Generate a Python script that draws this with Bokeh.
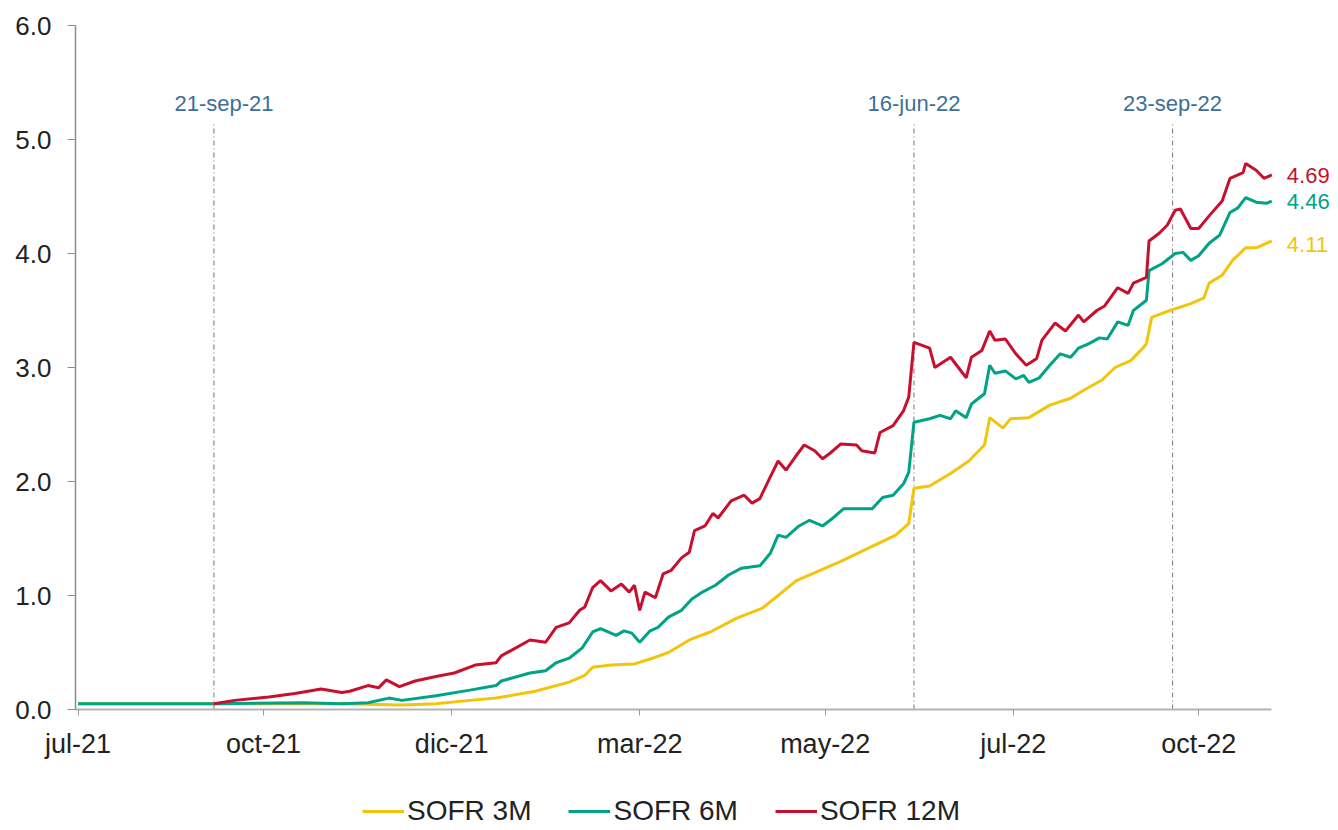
import pandas as pd
from bokeh.plotting import figure
from bokeh.layouts import column
from bokeh.models import (Range1d, FixedTicker, NumeralTickFormatter, Label,
                          Legend, LegendItem, ColumnDataSource)
from bokeh.core.properties import value
from bokeh.embed import file_html
from bokeh.resources import INLINE

# ---------------- data ----------------
sofr3m_dates = ["2021-07-31", "2021-09-21", "2021-11-09", "2021-12-02", "2021-12-15",
                "2021-12-28", "2022-01-07", "2022-01-22", "2022-02-04", "2022-02-10",
                "2022-02-13", "2022-02-20", "2022-03-01", "2022-03-08", "2022-03-14",
                "2022-03-22", "2022-03-30", "2022-04-09", "2022-04-19", "2022-04-25",
                "2022-05-02", "2022-05-08", "2022-05-15", "2022-05-19", "2022-05-30",
                "2022-06-09", "2022-06-14", "2022-06-16", "2022-06-22", "2022-06-30",
                "2022-07-07", "2022-07-13", "2022-07-15", "2022-07-20", "2022-07-23",
                "2022-07-30", "2022-08-07", "2022-08-15", "2022-08-20", "2022-08-27",
                "2022-09-01", "2022-09-07", "2022-09-12", "2022-09-13", "2022-09-15",
                "2022-09-22", "2022-09-30", "2022-10-05", "2022-10-07", "2022-10-12",
                "2022-10-16", "2022-10-21", "2022-10-25", "2022-10-31"]
sofr3m = [0.05, 0.05, 0.05, 0.04, 0.05,
          0.08, 0.10, 0.16, 0.24, 0.30,
          0.37, 0.39, 0.40, 0.45, 0.50,
          0.61, 0.68, 0.80, 0.89, 1.00,
          1.13, 1.19, 1.26, 1.30, 1.42,
          1.53, 1.63, 1.94, 1.96, 2.07,
          2.18, 2.32, 2.56, 2.47, 2.55,
          2.56, 2.67, 2.73, 2.80, 2.89,
          3.00, 3.06, 3.18, 3.21, 3.44,
          3.50, 3.56, 3.61, 3.74, 3.81,
          3.94, 4.05, 4.05, 4.11]

sofr6m_dates = ["2021-07-31", "2021-09-21", "2021-10-25", "2021-11-09", "2021-11-19",
                "2021-11-27", "2021-12-02", "2021-12-15", "2021-12-28", "2022-01-07",
                "2022-01-09", "2022-01-20", "2022-01-26", "2022-01-30", "2022-02-04",
                "2022-02-09", "2022-02-13", "2022-02-16", "2022-02-22", "2022-02-25",
                "2022-02-28", "2022-03-03", "2022-03-07", "2022-03-10", "2022-03-14",
                "2022-03-19", "2022-03-23", "2022-03-27", "2022-04-01", "2022-04-06",
                "2022-04-11", "2022-04-18", "2022-04-22", "2022-04-25", "2022-04-28",
                "2022-05-03", "2022-05-07", "2022-05-12", "2022-05-16", "2022-05-20",
                "2022-05-31", "2022-06-04", "2022-06-08", "2022-06-12", "2022-06-14",
                "2022-06-16", "2022-06-22", "2022-06-26", "2022-06-30", "2022-07-02",
                "2022-07-06", "2022-07-08", "2022-07-13", "2022-07-15", "2022-07-17",
                "2022-07-21", "2022-07-25", "2022-07-28", "2022-07-30", "2022-08-03",
                "2022-08-07", "2022-08-11", "2022-08-15", "2022-08-18", "2022-08-22",
                "2022-08-26", "2022-08-29", "2022-09-02", "2022-09-06", "2022-09-08",
                "2022-09-13", "2022-09-14", "2022-09-19", "2022-09-24", "2022-09-27",
                "2022-09-30", "2022-10-03", "2022-10-07", "2022-10-11", "2022-10-15",
                "2022-10-18", "2022-10-21", "2022-10-25", "2022-10-29", "2022-10-31"]
sofr6m = [0.05, 0.05, 0.06, 0.05, 0.06,
          0.10, 0.08, 0.12, 0.17, 0.21,
          0.25, 0.32, 0.34, 0.41, 0.45,
          0.54, 0.68, 0.71, 0.65, 0.69,
          0.67, 0.59, 0.69, 0.72, 0.81,
          0.87, 0.97, 1.03, 1.09, 1.18,
          1.24, 1.26, 1.37, 1.53, 1.51,
          1.61, 1.66, 1.61, 1.68, 1.76,
          1.76, 1.86, 1.88, 1.98, 2.08,
          2.52, 2.55, 2.58, 2.55, 2.62,
          2.56, 2.68, 2.77, 3.02, 2.95,
          2.97, 2.90, 2.93, 2.87, 2.91,
          3.02, 3.12, 3.09, 3.17, 3.21,
          3.26, 3.25, 3.40, 3.37, 3.50,
          3.59, 3.85, 3.91, 4.00, 4.01,
          3.94, 3.98, 4.09, 4.16, 4.36,
          4.40, 4.49, 4.45, 4.44, 4.46]

sofr12m_dates = ["2021-09-21", "2021-09-29", "2021-10-12", "2021-10-22", "2021-11-01",
                 "2021-11-09", "2021-11-12", "2021-11-19", "2021-11-23", "2021-11-26",
                 "2021-12-01", "2021-12-07", "2021-12-15", "2021-12-22", "2021-12-30",
                 "2022-01-07", "2022-01-09", "2022-01-20", "2022-01-26", "2022-01-30",
                 "2022-02-04", "2022-02-08", "2022-02-10", "2022-02-13", "2022-02-16",
                 "2022-02-20", "2022-02-24", "2022-02-27", "2022-03-01", "2022-03-03",
                 "2022-03-05", "2022-03-09", "2022-03-12", "2022-03-15", "2022-03-19",
                 "2022-03-22", "2022-03-24", "2022-03-28", "2022-03-31", "2022-04-02",
                 "2022-04-07", "2022-04-12", "2022-04-15", "2022-04-18", "2022-04-22",
                 "2022-04-25", "2022-04-28", "2022-05-02", "2022-05-05", "2022-05-09",
                 "2022-05-12", "2022-05-15", "2022-05-19", "2022-05-25", "2022-05-27",
                 "2022-06-01", "2022-06-03", "2022-06-08", "2022-06-12", "2022-06-14",
                 "2022-06-16", "2022-06-22", "2022-06-24", "2022-06-30", "2022-07-06",
                 "2022-07-08", "2022-07-12", "2022-07-15", "2022-07-17", "2022-07-21",
                 "2022-07-25", "2022-07-29", "2022-08-02", "2022-08-04", "2022-08-09",
                 "2022-08-13", "2022-08-18", "2022-08-20", "2022-08-25", "2022-08-28",
                 "2022-09-02", "2022-09-06", "2022-09-08", "2022-09-13", "2022-09-14",
                 "2022-09-18", "2022-09-21", "2022-09-24", "2022-09-26", "2022-09-30",
                 "2022-10-03", "2022-10-07", "2022-10-12", "2022-10-15", "2022-10-20",
                 "2022-10-21", "2022-10-25", "2022-10-28", "2022-10-31"]
sofr12m = [0.05, 0.08, 0.11, 0.14, 0.18,
           0.15, 0.16, 0.21, 0.19, 0.26,
           0.20, 0.25, 0.29, 0.32, 0.39,
           0.41, 0.47, 0.61, 0.59, 0.72,
           0.76, 0.87, 0.90, 1.07, 1.13,
           1.04, 1.10, 1.03, 1.09, 0.87,
           1.03, 0.98, 1.19, 1.22, 1.33,
           1.38, 1.57, 1.61, 1.72, 1.68,
           1.83, 1.88, 1.81, 1.85, 2.04,
           2.18, 2.10, 2.23, 2.32, 2.27,
           2.20, 2.25, 2.33, 2.32, 2.27,
           2.25, 2.43, 2.49, 2.62, 2.74,
           3.22, 3.17, 3.00, 3.09, 2.91,
           3.09, 3.15, 3.32, 3.24, 3.25,
           3.12, 3.02, 3.08, 3.24, 3.39,
           3.32, 3.46, 3.40, 3.50, 3.54,
           3.70, 3.65, 3.74, 3.79, 4.11,
           4.18, 4.25, 4.38, 4.39, 4.22,
           4.22, 4.33, 4.46, 4.66, 4.71,
           4.79, 4.73, 4.66, 4.69]

series_names = ["SOFR 3M", "SOFR 6M", "SOFR 12M"]
series_colors = ["#f2c50c", "#00a386", "#c8102e"]
end_labels = ["4.11", "4.46", "4.69"]
end_label_y = [4.08, 4.46, 4.68]

event_dates = ["2021-09-21", "2022-06-16", "2022-09-23"]
event_labels = ["21-sep-21", "16-jun-22", "23-sep-22"]

tick_dates = ["2021-07-31", "2021-10-10", "2021-12-21", "2022-03-03",
              "2022-05-13", "2022-07-24", "2022-10-03"]
tick_labels = ["jul-21", "oct-21", "dic-21", "mar-22", "may-22", "jul-22", "oct-22"]
y_ticks = [0, 1, 2, 3, 4, 5, 6]

x_start, x_axis_end, x_view_end = "2021-07-30", "2022-10-31", "2022-11-24"

# ---------------- helpers ----------------
def ms(s):
    return pd.Timestamp(s).value / 1e6

FONT = "Liberation Sans"
W = 1336

p = figure(width=W, height=770, output_backend="svg", toolbar_location=None,
           x_range=Range1d(ms(x_start), ms(x_view_end)), y_range=Range1d(0, 6),
           title=None)
p.min_border_left = 75
p.min_border_right = 2
p.min_border_top = 25
p.min_border_bottom = 61
p.outline_line_color = None
p.xgrid.visible = False
p.ygrid.visible = False
p.background_fill_color = "white"
p.border_fill_color = "white"

# axes
xa = p.xaxis[0]
xa.bounds = (ms(x_start), ms(x_axis_end))
xa.ticker = FixedTicker(ticks=[ms(d) for d in tick_dates])
xa.major_label_overrides = {ms(d): lab for d, lab in zip(tick_dates, tick_labels)}
xa.axis_line_color = "#b3b3b3"
xa.axis_line_width = 2
xa.major_tick_line_color = "#9a9a9a"
xa.major_tick_in = 0
xa.major_tick_out = 6
xa.minor_tick_in = 0
xa.minor_tick_out = 0
xa.major_label_text_font = FONT
xa.major_label_text_font_size = "27px"
xa.major_label_text_color = "#222222"
xa.major_label_standoff = 13

ya = p.yaxis[0]
ya.ticker = FixedTicker(ticks=y_ticks)
ya.formatter = NumeralTickFormatter(format="0.0")
ya.axis_line_color = "#8c8c8c"
ya.axis_line_width = 1.5
ya.major_tick_line_color = "#8c8c8c"
ya.major_tick_in = 0
ya.major_tick_out = 8
ya.minor_tick_in = 0
ya.minor_tick_out = 0
ya.major_label_text_font = FONT
ya.major_label_text_font_size = "26px"
ya.major_label_text_color = "#222222"
ya.major_label_standoff = 16

# event lines
ev_src = ColumnDataSource(dict(x=[ms(d) for d in event_dates],
                               y0=[0] * len(event_dates),
                               y1=[5.15] * len(event_dates),
                               ty=[5.32] * len(event_dates),
                               dx=[10, 0, 0],
                               lab=event_labels))
p.segment(x0="x", y0="y0", x1="x", y1="y1", source=ev_src,
          line_color="#8a8a8a", line_width=1.2, line_dash="5 3 1 3")
p.text(x="x", y="ty", text="lab", x_offset="dx", source=ev_src, text_align="center",
       text_baseline="middle", text_font=value(FONT), text_font_size="22px",
       text_color="#3d6f96")

# series
all_dates = [sofr3m_dates, sofr6m_dates, sofr12m_dates]
all_vals = [sofr3m, sofr6m, sofr12m]
for d, v, c in zip(all_dates, all_vals, series_colors):
    p.line([ms(s) for s in d], v, line_color=c, line_width=3)

# end labels
for dts, lab, yv, c in zip(all_dates, end_labels, end_label_y, series_colors):
    p.add_layout(Label(x=ms(dts[-1]), y=yv, x_offset=15, text=lab,
                       text_align="left", text_baseline="middle",
                       text_font=FONT, text_font_size="22px", text_color=c))

# legend strip below the chart
lg = figure(width=W, height=58, output_backend="svg", toolbar_location=None,
            x_range=Range1d(0, W), y_range=Range1d(0, 58), title=None,
            x_axis_type=None, y_axis_type=None)
lg.min_border = 0
lg.min_border_left = 0
lg.min_border_right = 0
lg.min_border_top = 0
lg.min_border_bottom = 0
lg.outline_line_color = None
lg.xgrid.visible = False
lg.ygrid.visible = False
# legend-only renderers, kept outside the visible range of the strip
leg_renderers = [lg.line([-50, -40], [-50, -40], line_color=c, line_width=3)
                 for c in series_colors]
legend = Legend(items=[LegendItem(label=n, renderers=[r])
                       for n, r in zip(series_names, leg_renderers)],
                orientation="horizontal", location=(287, 1),
                glyph_width=42, glyph_height=20, label_standoff=3,
                spacing=37, padding=0, margin=0,
                label_text_font=FONT, label_text_font_size="28px",
                label_text_color="#222222",
                background_fill_alpha=0, border_line_alpha=0)
lg.add_layout(legend)

open("out.html", "w").write(file_html(column(p, lg, spacing=0), INLINE))
